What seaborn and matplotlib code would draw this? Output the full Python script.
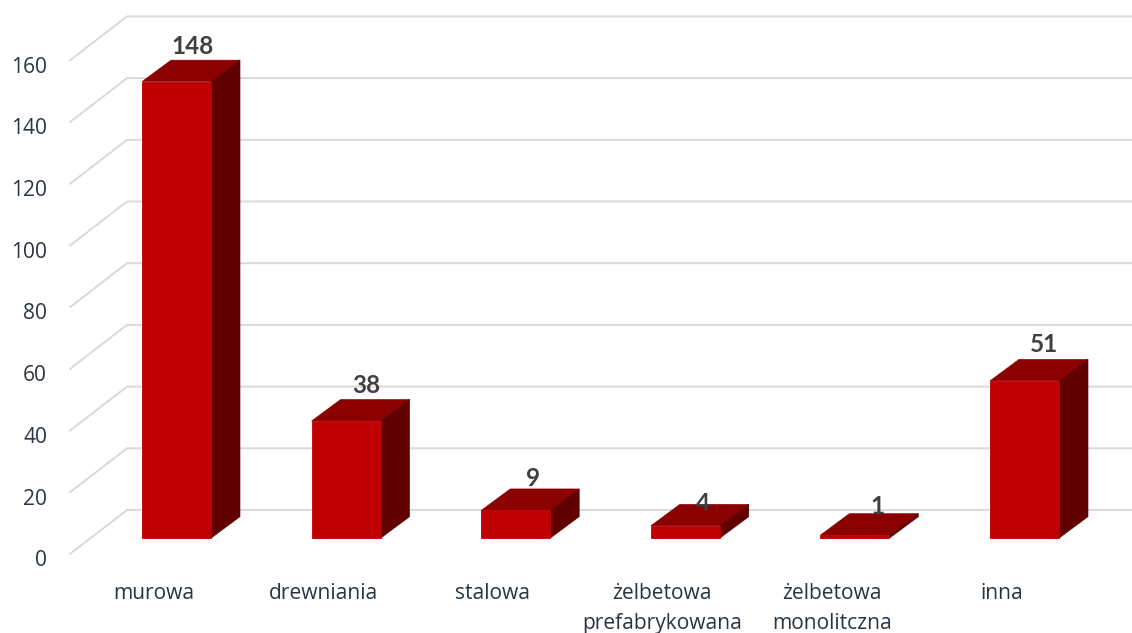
import matplotlib
matplotlib.use("Agg")
import matplotlib.pyplot as plt
from matplotlib.patches import Polygon
from matplotlib.transforms import ScaledTranslation
import pandas as pd
import seaborn as sns

# Number of buildings by construction type
categories = ["murowa", "drewniania", "stalowa", "żelbetowa\nprefabrykowana",
              "żelbetowa\nmonolitczna", "inna"]
values = [148, 38, 9, 4, 1, 51]
y_ticks = [0, 20, 40, 60, 80, 100, 120, 140, 160]

FRONT = "#c00000"
TOP = "#8b0000"
SIDE = "#600000"
GRID = "#d9d9d9"
TICK_TEXT = "#2b3442"
VALUE_TEXT = "#404040"

W, H, DPI = 1132, 633, 100
PX = 72 / DPI  # points per pixel

sns.set_theme(style="white")
plt.rcParams["font.family"] = ["Open Sans", "DejaVu Sans"]

fig = plt.figure(figsize=(W / DPI, H / DPI), dpi=DPI, facecolor="white")

# Axes span from the front edge of the floor to the top right of the canvas
x_left, x_right, y_floor = 70, 1132, 554
ax = fig.add_axes([x_left / W, (H - y_floor) / H, (x_right - x_left) / W, y_floor / H])

df = pd.DataFrame({"typ": categories, "liczba": values})
sns.barplot(data=df, x="typ", y="liczba", order=categories, color=FRONT, saturation=1,
            width=0.407, edgecolor=FRONT, linewidth=0.6, zorder=3, ax=ax)

# Scale: 169.6 px per category, 3.085 px per unit, first bar centred at x=176.5, zero at y=538.2
px_cat, px_unit, x0, y0 = 169.6, 3.085, 176.5, 538.2
ax.set_xlim((x_left - x0) / px_cat, (x_right - x0) / px_cat)
ax.set_ylim((y0 - y_floor) / px_unit, y0 / px_unit)

# Extruded look: fixed depth expressed in data units
depth_x, depth_y = 29 / px_cat, 21.5 / px_unit
for bar in list(ax.patches):
    l, r = bar.get_x(), bar.get_x() + bar.get_width()
    t = bar.get_height()
    ax.add_patch(Polygon([(l, t), (l + depth_x, t + depth_y), (r + depth_x, t + depth_y), (r, t)],
                         closed=True, facecolor=TOP, edgecolor=TOP, linewidth=0.4, zorder=2.9))
    ax.add_patch(Polygon([(r, 0), (r + depth_x, depth_y), (r + depth_x, t + depth_y), (r, t)],
                         closed=True, facecolor=SIDE, edgecolor=SIDE, linewidth=0.4, zorder=2.9))

# Gridlines bend along the left wall and run across the back wall
wall_x = (127 - x0) / px_cat
front_shift = (y0 - y_floor) / px_unit
back_shift = (y0 - 510) / px_unit
for v in y_ticks:
    ax.plot([ax.get_xlim()[0], wall_x, ax.get_xlim()[1]],
            [v + front_shift, v + back_shift, v + back_shift],
            color=GRID, lw=1.4, zorder=1, clip_on=False, solid_joinstyle="miter")

# Value labels sit above each block; the thin blocks carry theirs closer to the top face
label_lift = [35, 35, 32, 22, 29, 36]
label_shift = [16.5, 20.5, 17, 18, 23, 20]
for i, (v, lift, shift) in enumerate(zip(values, label_lift, label_shift)):
    ax.annotate(str(v), (i, v), xytext=(shift * PX, lift * PX), textcoords="offset points",
                ha="center", va="center", fontsize=17.5, fontweight="bold",
                family=["Lato", "DejaVu Sans"], color=VALUE_TEXT, zorder=5)

ax.set_xlabel("")
ax.set_ylabel("")
ax.set_yticks(y_ticks)
ax.set_xticks(range(len(categories)))
ax.set_xticklabels(categories, linespacing=1.55)
ax.tick_params(axis="y", length=0, pad=23 * PX, labelsize=15.1, labelcolor=TICK_TEXT)
ax.tick_params(axis="x", length=0, pad=29 * PX, labelsize=15.1, labelcolor=TICK_TEXT)
sns.despine(ax=ax, left=True, bottom=True)
ax.patch.set_visible(False)

# Axis labels are offset from the front plane of the blocks
for lab in ax.get_yticklabels():
    lab.set_transform(lab.get_transform() + ScaledTranslation(0, -20 / DPI, fig.dpi_scale_trans))
for lab in ax.get_xticklabels():
    lab.set_transform(lab.get_transform() + ScaledTranslation(-23 / DPI, 0, fig.dpi_scale_trans))

fig.savefig("out.png", dpi=DPI)
